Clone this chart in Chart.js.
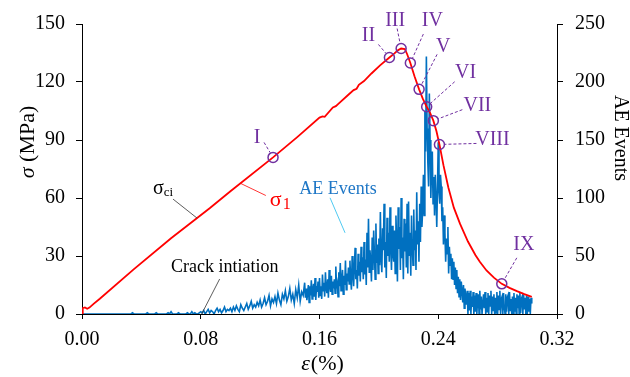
<!DOCTYPE html>
<html>
<head>
<meta charset="utf-8">
<script src="https://cdn.jsdelivr.net/npm/chart.js@4/dist/chart.umd.min.js"></script>
<style>
  html, body { margin: 0; padding: 0; background: #fff; }
  #wrap { width: 630px; height: 377px; }
</style>
</head>
<body>
<div id="wrap"><canvas id="c" width="630" height="377"></canvas></div>
<script>
// ---- Data ----------------------------------------------------------------
// Axial stress–strain curve (strain in %, stress in MPa)
const stressStrain = [0, 0.0005, 0.002, 0.0035, 0.005, 0.008, 0.012, 0.035, 0.06, 0.086, 0.1,
  0.1287, 0.145, 0.16, 0.162, 0.1635, 0.169, 0.171, 0.1725, 0.18, 0.183,
  0.185, 0.1865, 0.19, 0.195, 0.2008, 0.2071, 0.2105, 0.213, 0.215, 0.2175,
  0.219, 0.2212, 0.224, 0.2271, 0.2295, 0.2322, 0.2345, 0.2367, 0.2388, 0.2408,
  0.2435, 0.2468, 0.2505, 0.2547, 0.26, 0.265, 0.268, 0.2725, 0.2775, 0.2828,
  0.288, 0.293, 0.298, 0.303];
const stressValues = [0.4, 3.0, 3.4, 2.7, 3.3, 5.4, 7.9, 23.2, 39.2, 54.7, 63.5,
  81.0, 91.5, 101.6, 102.2, 102.0, 106.8, 107.5, 108.6, 113.8, 115.8,
  116.5, 118.5, 120.5, 124.4, 128.6, 132.7, 134.8, 136.5, 137.3, 137.0,
  134.5, 129.8, 123.0, 116.2, 111.5, 107.2, 104.0, 100.0, 94.5, 87.7,
  77.0, 65.4, 55.0, 46.6, 37.5, 30.5, 27.0, 22.5, 18.8, 15.6,
  13.5, 11.8, 10.3, 8.9];

// Acoustic emission counts before 0.15 % strain, one sample every 0.001 %
const aeEarlyStart = 0;
const aeEarlyStep = 0.001;
const aeEventsEarly = [
  0,0,0,0,0,0,0,0,0,0,
  0,0,0,0,0,0,0,0,0,0,
  0,0,0,0,0,0,0,0,0,0,
  0,0,0,0,1,0,0,0,0,0,
  0,0,0,0,1,0,0,0,0,0,
  1,0,0,0,0,0,0,0,1,0,
  2,0,0,0,0,1,0,0,0,0,
  0,1,0,0,2,0,1,0,0,1,
  2,1,3,0,2,4,1,3,2,0,
  3,5,2,4,1,3,6,2,4,3,
  5,2,6,3,7,4,2,8,5,3,
  6,9,4,7,11,5,8,6,10,7,
  12,6,9,14,8,11,16,7,13,10,
  15,9,18,12,8,17,13,20,11,15,
  22,12,17,9,21,14,25,11,19,16
];

// Acoustic emission counts from 0.15 % strain on, one sample every 0.0005 %
const aeLateStart = 0.15;
const aeLateStep = 0.0005;
const aeEventsLate = [
  27,14,22,12,18,25,10,24,16,29,13,21,26,15,31,12,24,19,28,14,
  31,16,24,13,34,20,27,15,36,22,18,30,14,38,24,19,33,17,28,22,
  30,18,41,22,26,15,36,24,44,20,29,38,17,33,25,46,21,35,28,40,
  26,46,30,21,50,35,24,41,57,30,38,22,52,33,45,28,58,36,49,30,
  62,34,47,25,70,40,82,36,55,45,28,66,38,72,52,30,78,44,60,35,
  65,42,88,48,36,74,55,95,40,62,31,83,50,70,45,92,58,38,76,52,
  45,72,35,85,60,28,92,56,75,38,100,48,66,30,82,54,78,40,95,35,
  97,50,70,33,85,60,42,90,55,72,38,105,60,80,45,95,62,110,75,90,
  120,85,175,140,222,160,130,110,190,150,100,125,140,95,118,85,120,100,75,110,
  148,105,95,120,110,80,92,60,85,70,45,65,52,75,35,58,42,52,30,48,
  30,45,25,40,22,38,18,32,15,30,12,28,20,10,25,5,22,15,8,20,
  0,18,3,20,0,15,6,19,0,16,2,18,0,12,17,0,20,4,15,0,
  0,17,5,19,0,14,2,18,0,16,7,20,0,15,3,17,0,14,1,19,
  0,16,4,20,0,13,15,0,18,6,0,17,2,14,16,0,19,3,13,0,
  15,0,18,2,14,0,17,5,16,0,19,1,13,15,0,17,4,14,0,16,
  0,15,2,13,0,14,9
];

// Characteristic stages marked on the stress curve
const stageNames  = ['I', 'II', 'III', 'IV', 'V', 'VI', 'VII', 'VIII', 'IX'];
const stageStrain = [0.1287, 0.2071, 0.215, 0.2212, 0.2271, 0.2322, 0.2367, 0.2408, 0.2828];
const stageStress = [81.0, 132.7, 137.3, 129.8, 116.2, 107.2, 100.0, 87.7, 15.6];

// Crack initiation point
const crackInitStrain = 0.0806;
const sigmaCiStrain = 0.0775;
const sigmaCiStress = 49.6;

// Axis ticks
const strainTicks = [0, 0.08, 0.16, 0.24, 0.32];
const stressTicks = [0, 30, 60, 90, 120, 150];
const aeTicks = [0, 50, 100, 150, 200, 250];

// ---- Styling ---------------------------------------------------------------
const FONT = "'Liberation Serif', 'Times New Roman', serif";
const RED = '#FF0000';
const BLUE = '#0070C0';
const PURPLE = '#7030A0';

// Label placement relative to each stage marker (pixels)
const stageTextOffset = [[-16,-20],[-21,-22],[-6,-28],[22,-42],[24,-43],[39,-34],[44,-15],[53,-5],[22,-39]];
const stageLeaderOffset = [[-9,-15],[-11,-13],[-4,-20],[13,-29],[18,-35],[28,-25],[29,-11],[37,-1],[15,-26]];

const stressData = stressStrain.map((s, i) => ({ x: s, y: stressValues[i] }));
const aeData = [
  ...aeEventsEarly.map((v, i) => ({ x: +(aeEarlyStart + i * aeEarlyStep).toFixed(4), y: v })),
  ...aeEventsLate.map((v, i) => ({ x: +(aeLateStart + i * aeLateStep).toFixed(4), y: v }))
];
const stageData = stageStrain.map((s, i) => ({ x: s, y: stageStress[i] }));

function fixedTicks(values) {
  return (scale) => { scale.ticks = values.map(v => ({ value: v })); };
}

const annotations = {
  id: 'annotations',
  afterDatasetsDraw(chart) {
    const { ctx } = chart;
    const x = chart.scales.x, y = chart.scales.y, y2 = chart.scales.y2;
    ctx.save();

    // Stage markers: leader lines and roman numerals
    stageNames.forEach((name, i) => {
      const px = x.getPixelForValue(stageStrain[i]);
      const py = y.getPixelForValue(stageStress[i]);
      const [lx, ly] = stageLeaderOffset[i];
      const len = Math.hypot(lx, ly);
      ctx.strokeStyle = PURPLE;
      ctx.lineWidth = 1;
      ctx.setLineDash([3, 2]);
      ctx.beginPath();
      ctx.moveTo(px + lx, py + ly);
      ctx.lineTo(px + lx / len * 5.5, py + ly / len * 5.5);
      ctx.stroke();
      ctx.setLineDash([]);
      ctx.fillStyle = PURPLE;
      ctx.font = `20px ${FONT}`;
      ctx.textAlign = 'center';
      ctx.textBaseline = 'middle';
      ctx.fillText(name, px + stageTextOffset[i][0], py + stageTextOffset[i][1]);
    });

    // sigma_ci label
    let ax = x.getPixelForValue(sigmaCiStrain), ay = y.getPixelForValue(sigmaCiStress);
    ctx.strokeStyle = '#333';
    ctx.lineWidth = 0.8;
    ctx.beginPath();
    ctx.moveTo(ax, ay);
    ctx.lineTo(ax - 24, ay - 19);
    ctx.stroke();
    ctx.fillStyle = '#000';
    ctx.textAlign = 'left';
    ctx.textBaseline = 'alphabetic';
    ctx.font = `20px ${FONT}`;
    ctx.fillText('σ', ax - 44, ay - 24);
    let w = ctx.measureText('σ').width;
    ctx.font = `13px ${FONT}`;
    ctx.fillText('ci', ax - 44 + w, ay - 22);

    // sigma_1 label
    ax = x.getPixelForValue(0.107);
    ay = y.getPixelForValue(67.5);
    ctx.strokeStyle = RED;
    ctx.lineWidth = 0.8;
    ctx.beginPath();
    ctx.moveTo(ax, ay);
    ctx.lineTo(ax + 25, ay + 12);
    ctx.stroke();
    ctx.fillStyle = RED;
    ctx.font = `22px ${FONT}`;
    ctx.fillText('σ', ax + 29, ay + 22);
    w = ctx.measureText('σ').width;
    ctx.font = `16px ${FONT}`;
    ctx.fillText('1', ax + 30 + w, ay + 25);

    // AE Events label
    ax = x.getPixelForValue(0.1772);
    ay = y2.getPixelForValue(70);
    ctx.strokeStyle = '#22BBEE';
    ctx.lineWidth = 0.8;
    ctx.beginPath();
    ctx.moveTo(ax, ay);
    ctx.lineTo(ax - 15, ay - 35);
    ctx.stroke();
    ctx.fillStyle = '#1F77C6';
    ctx.font = `18px ${FONT}`;
    ctx.textAlign = 'center';
    ctx.textBaseline = 'middle';
    ctx.fillText('AE Events', ax - 7, ay - 44);

    // Crack initiation label
    ax = x.getPixelForValue(crackInitStrain);
    ay = y2.getPixelForValue(0);
    ctx.strokeStyle = '#333';
    ctx.lineWidth = 0.8;
    ctx.beginPath();
    ctx.moveTo(ax, ay);
    ctx.lineTo(ax + 18, ay - 35);
    ctx.stroke();
    ctx.fillStyle = '#000';
    ctx.font = `18px ${FONT}`;
    ctx.fillText('Crack intiation', ax + 23, ay - 47);

    ctx.restore();
  },
  afterDraw(chart) {
    const { ctx } = chart;
    ctx.save();
    ctx.fillStyle = '#000';
    ctx.textBaseline = 'middle';

    // Left axis title: σ (MPa)
    ctx.save();
    ctx.translate(28, 142);
    ctx.rotate(-Math.PI / 2);
    ctx.font = `italic 22px ${FONT}`;
    const s1 = ctx.measureText('σ').width;
    ctx.font = `22px ${FONT}`;
    const s2 = ctx.measureText(' (MPa)').width;
    let start = -(s1 + s2) / 2;
    ctx.textAlign = 'left';
    ctx.font = `italic 22px ${FONT}`;
    ctx.fillText('σ', start, 0);
    ctx.font = `22px ${FONT}`;
    ctx.fillText(' (MPa)', start + s1, 0);
    ctx.restore();

    // Right axis title: AE Events
    ctx.save();
    ctx.translate(620, 138);
    ctx.rotate(Math.PI / 2);
    ctx.font = `20px ${FONT}`;
    ctx.textAlign = 'center';
    ctx.fillText('AE Events', 0, 0);
    ctx.restore();

    // Bottom axis title: ε(%)
    ctx.font = `italic 22px ${FONT}`;
    const e1 = ctx.measureText('ε').width;
    ctx.font = `22px ${FONT}`;
    const e2 = ctx.measureText('(%)').width;
    start = 322 - (e1 + e2) / 2;
    ctx.textAlign = 'left';
    ctx.font = `italic 22px ${FONT}`;
    ctx.fillText('ε', start, 364);
    ctx.font = `22px ${FONT}`;
    ctx.fillText('(%)', start + e1 + 1, 364);

    ctx.restore();
  }
};

const tickFont = { family: FONT, size: 20 };
const axisGrid = { display: true, drawOnChartArea: false, drawTicks: true, tickLength: 6, tickColor: '#000', color: '#000', lineWidth: 1 };
const axisBorder = { display: true, color: '#000', width: 1 };

new Chart(document.getElementById('c'), {
  type: 'line',
  data: {
    datasets: [
      {
        label: 'Stages',
        data: stageData,
        yAxisID: 'y',
        showLine: false,
        pointStyle: 'circle',
        pointRadius: 5,
        pointBorderWidth: 1.5,
        pointBorderColor: PURPLE,
        pointBackgroundColor: 'rgba(0,0,0,0)'
      },
      {
        label: 'σ1',
        data: stressData,
        yAxisID: 'y',
        borderColor: RED,
        borderWidth: 1.8,
        pointRadius: 0,
        tension: 0
      },
      {
        label: 'AE Events',
        data: aeData,
        yAxisID: 'y2',
        borderColor: BLUE,
        borderWidth: 1.6,
        pointRadius: 0,
        tension: 0
      }
    ]
  },
  options: {
    responsive: false,
    animation: false,
    devicePixelRatio: 1,
    layout: { padding: { top: 22, left: 0, right: 0, bottom: 0 } },
    plugins: { legend: { display: false }, tooltip: { enabled: false } },
    scales: {
      x: {
        type: 'linear', position: 'bottom', min: 0, max: 0.32,
        afterBuildTicks: fixedTicks(strainTicks),
        afterFit: (s) => { s.height = 63; },
        ticks: { font: tickFont, color: '#000', padding: 9, maxRotation: 0,
                 callback: (v) => Number(v).toFixed(2) },
        grid: { ...axisGrid, tickLength: 5 },
        border: axisBorder
      },
      y: {
        type: 'linear', position: 'left', min: 0, max: 150,
        afterBuildTicks: fixedTicks(stressTicks),
        afterFit: (s) => { s.width = 82; },
        ticks: { font: tickFont, color: '#000', padding: 11 },
        grid: axisGrid,
        border: axisBorder
      },
      y2: {
        type: 'linear', position: 'right', min: 0, max: 250,
        afterBuildTicks: fixedTicks(aeTicks),
        afterFit: (s) => { s.width = 73; },
        ticks: { font: tickFont, color: '#000', padding: 12 },
        grid: axisGrid,
        border: axisBorder
      }
    }
  },
  plugins: [annotations]
});
</script>
</body>
</html>
